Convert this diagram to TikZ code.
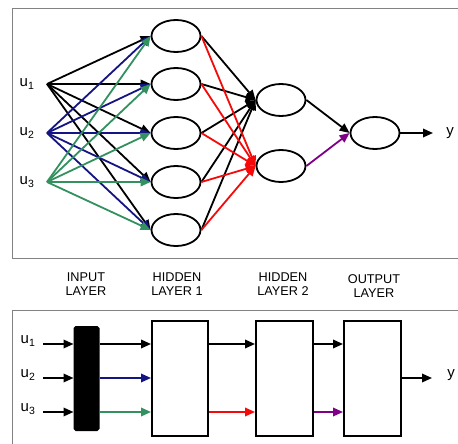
\documentclass[tikz,border=0pt]{standalone}
\usepackage{fontspec}
\setmainfont{Liberation Sans}
\usetikzlibrary{shapes.geometric,arrows.meta}
\definecolor{nblue}{RGB}{20,20,130}
\definecolor{ngreen}{RGB}{50,145,95}
\definecolor{nred}{RGB}{245,10,10}
\definecolor{npurple}{RGB}{125,0,135}
\definecolor{framec}{RGB}{130,130,130}
\tikzset{
  neuron/.style={ellipse,draw,line width=1.8pt,minimum width=49pt,minimum height=32pt,inner sep=0pt},
  conn/.style={line width=1.8pt,-{Triangle[length=10pt,width=8.5pt]}},
  blk/.style={rectangle,draw,line width=2pt,inner sep=0pt},
  lbl/.style={font=\fontsize{15}{17}\selectfont,inner sep=0pt},
  captxt/.style={font=\fontsize{12.7}{14.4}\selectfont,align=center,inner sep=0pt},
  fr/.style={draw=framec,line width=0.9pt}
}
\begin{document}
\begin{tikzpicture}[x=1pt,y=-1pt]
\useasboundingbox (0,0) rectangle (458,444);
% frames
\draw[fr] (12,8) rectangle (470,258);
\draw[fr] (12,310) rectangle (470,460);
% top network
\node[lbl] (lu1) at (27,84) {u\textsubscript{1}};
\node[lbl] (lu2) at (27,133) {u\textsubscript{2}};
\node[lbl] (lu3) at (27,182) {u\textsubscript{3}};
\coordinate (i1) at (47,84);
\coordinate (i2) at (47,133);
\coordinate (i3) at (47,182);
\node[neuron] (h1) at (176,36) {};
\node[neuron] (h2) at (176,84) {};
\node[neuron] (h3) at (176,133) {};
\node[neuron] (h4) at (176,182) {};
\node[neuron] (h5) at (176,230) {};
\node[neuron] (g1) at (281,100) {};
\node[neuron] (g2) at (281,166) {};
\node[neuron] (o) at (375,133) {};
\coordinate (yend) at (433,133);
\node[lbl] (ylbl) at (450,133) {y};
\foreach \h in {h1,h2,h3,h4,h5} \draw[conn,black] (i1) -- (\h.west);
\foreach \h in {h1,h2,h3,h4,h5} \draw[conn,nblue] (i2) -- (\h.west);
\foreach \h in {h1,h2,h3,h4,h5} \draw[conn,ngreen] (i3) -- (\h.west);
\foreach \h in {h1,h2,h3,h4,h5} \draw[conn,black] (\h.east) -- (g1.west);
\foreach \h in {h1,h2,h3,h4,h5} \draw[conn,nred] (\h.east) -- (g2.west);
\draw[conn,black] (g1.east) -- (o.west);
\draw[conn,npurple] (g2.east) -- (o.west);
\draw[conn,black] (o.east) -- (yend);
% captions
\node[captxt] (c1) at (86,284) {INPUT\\LAYER};
\node[captxt] (c2) at (177,284) {HIDDEN\\LAYER 1};
\node[captxt] (c3) at (283,284) {HIDDEN\\LAYER 2};
\node[captxt] (c4) at (374,286) {OUTPUT\\LAYER};
% bottom block diagram
\node[blk,fill=black,rounded corners=1.5pt,minimum width=24pt,minimum height=103pt] (bar) at (86.5,378.5) {};
\node[blk,minimum width=56pt,minimum height=115pt] (b1) at (180,378.5) {};
\node[blk,minimum width=57pt,minimum height=115pt] (b2) at (284.5,378.5) {};
\node[blk,minimum width=57pt,minimum height=115pt] (b3) at (372.5,378.5) {};
\node[lbl] (bu1) at (28,341) {u\textsubscript{1}};
\node[lbl] (bu2) at (28,375) {u\textsubscript{2}};
\node[lbl] (bu3) at (28,409) {u\textsubscript{3}};
\coordinate (s1) at (43,344);
\coordinate (s2) at (43,378);
\coordinate (s3) at (43,412);
\coordinate (r1) at (100,344);
\coordinate (r2) at (100,378);
\coordinate (r3) at (100,412);
\draw[conn] (s1) -- (s1 -| bar.west);
\draw[conn] (s2) -- (s2 -| bar.west);
\draw[conn] (s3) -- (s3 -| bar.west);
\draw[conn,black] (r1) -- (r1 -| b1.west);
\draw[conn,nblue] (r2) -- (r2 -| b1.west);
\draw[conn,ngreen] (r3) -- (r3 -| b1.west);
\draw[conn,black] (b1.east |- r1) -- (b2.west |- r1);
\draw[conn,nred] (b1.east |- r3) -- (b2.west |- r3);
\draw[conn,black] (b2.east |- r1) -- (b3.west |- r1);
\draw[conn,npurple] (b2.east |- r3) -- (b3.west |- r3);
\coordinate (byend) at (432,378);
\node[lbl] (by) at (451,375) {y};
\draw[conn,black] (b3.east |- byend) -- (byend);
\end{tikzpicture}
\end{document}
